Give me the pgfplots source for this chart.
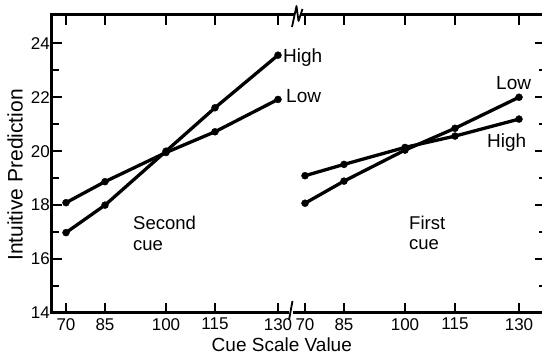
\documentclass[border=0pt]{standalone}
\usepackage{pgfplots}
\usepackage{pgfplotstable}
\pgfplotsset{compat=1.18}
\usepackage{fontspec}
\setmainfont{Liberation Sans}

% x positions are the drawn positions of the cue scale values (70,85,100,115,130) in each panel
\pgfplotstableread{
x y
66 16.98
105 18.00
166 20.00
215 21.61
278 23.56
}\secondHigh
\pgfplotstableread{
x y
66 18.09
105 18.87
166 19.95
215 20.72
278 21.92
}\secondLow
\pgfplotstableread{
x y
305 18.07
344 18.89
405 20.04
455 20.85
519 22.00
}\firstLow
\pgfplotstableread{
x y
305 19.09
344 19.51
405 20.14
455 20.56
519 21.19
}\firstHigh

\tikzset{dline/.style={black, line width=3.3pt, mark=*, mark size=3.5pt, mark options={solid, fill=black, line width=0.4pt}}}

\begin{document}
\begin{tikzpicture}
\begin{axis}[
  name=ax,
  scale only axis, width=490pt, height=298pt,
  xmin=52, xmax=542, ymin=14, ymax=25.05,
  clip=false,
  axis x line*=box, axis y line*=left,
  separate axis lines,
  axis line style={line width=3pt, line cap=rect},
  every outer x axis line/.append style={line width=3pt, line cap=rect},
  every outer y axis line/.append style={line width=3pt, line cap=rect},
  x axis line style={line width=3pt},
  y axis line style={line width=3pt},
  tick align=inside,
  major tick length=10pt, minor tick length=7pt,
  tick style={black, line width=2pt},
  xtick={66,105,166,215,278,305,344,405,455,519},
  xticklabels={70,85,100,115,130,70,85,100,115,130},
  ytick={14,16,...,24}, minor ytick={15,17,...,23},
  /pgf/number format/assume math mode=true,
  tick label style={font=\fontsize{17}{19}\selectfont},
  yticklabel style={anchor=east, inner sep=0pt, xshift=-2pt},
  xticklabel style={anchor=north, inner sep=0pt, yshift=-5pt},
  xlabel={Cue Scale Value},
  ylabel={Intuitive Prediction},
  every axis x label/.style={at={(axis description cs:0.469,-0.107)}, anchor=center, font=\fontsize{19}{22}\selectfont},
  every axis y label/.style={at={(axis description cs:-0.0755,0.463)}, rotate=90, anchor=center, font=\fontsize{21}{24}\selectfont},
]
\addplot[dline] table {\secondHigh};
\addplot[dline] table {\secondLow};
\addplot[dline] table {\firstLow};
\addplot[dline] table {\firstHigh};

\node[anchor=base west, inner sep=0pt, font=\fontsize{19}{22}\selectfont] at (axis cs:283,23.27) {High};
\node[anchor=base west, inner sep=0pt, font=\fontsize{19}{22}\selectfont] at (axis cs:286,21.79) {Low};
\node[anchor=base west, inner sep=0pt, font=\fontsize{19}{22}\selectfont] at (axis cs:496,22.27) {Low};
\node[anchor=base west, inner sep=0pt, font=\fontsize{19}{22}\selectfont] at (axis cs:487,20.155) {High};
\node[anchor=base west, inner sep=0pt, font=\fontsize{18.5}{21}\selectfont] at (axis cs:133,17.08) {Second};
\node[anchor=base west, inner sep=0pt, font=\fontsize{18.5}{21}\selectfont] at (axis cs:133,16.33) {cue};
\node[anchor=base west, inner sep=0pt, font=\fontsize{18.5}{21}\selectfont] at (axis cs:409,17.11) {First};
\node[anchor=base west, inner sep=0pt, font=\fontsize{18.5}{21}\selectfont] at (axis cs:409,16.34) {cue};
\end{axis}

% right-hand tick marks (no spine)
\begin{axis}[
  at={(ax.south west)}, anchor=south west,
  scale only axis, width=490pt, height=298pt,
  xmin=52, xmax=542, ymin=14, ymax=25.05,
  hide x axis,
  axis y line*=right,
  y axis line style={draw=none},
  tick align=inside,
  major tick length=7pt, minor tick length=3pt,
  tick style={black, line width=2pt},
  ytick={16,18,...,24}, minor ytick={15,17,...,23},
  yticklabels={},
]
\addplot[draw=none, mark=none] coordinates {(60,20)};
\end{axis}

% axis break marks
\fill[white] ([shift={(241.5pt,4pt)}]ax.north west) rectangle ([shift={(249pt,-4pt)}]ax.north west);
\draw[line width=1.8pt, line join=round] ([shift={(240pt,-12pt)}]ax.north west) -- ([shift={(244.5pt,9pt)}]ax.north west) -- ([shift={(246.5pt,-6pt)}]ax.north west) -- ([shift={(250.5pt,6pt)}]ax.north west);
\fill[white] ([shift={(236.5pt,4pt)}]ax.south west) rectangle ([shift={(240.5pt,-4pt)}]ax.south west);
\draw[line width=1.8pt] ([shift={(237pt,-7pt)}]ax.south west) -- ([shift={(240.5pt,12pt)}]ax.south west);

\pgfresetboundingbox
\path[use as bounding box] ([shift={(-52pt,-45pt)}]ax.south west) rectangle ([shift={(0pt,15pt)}]ax.north east);
\end{tikzpicture}
\end{document}
